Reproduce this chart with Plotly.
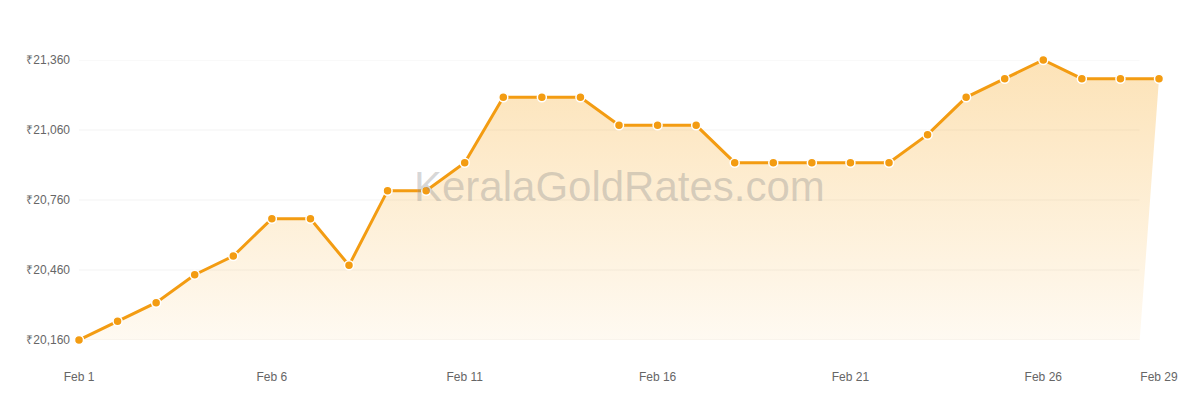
import plotly.graph_objects as go
import pandas as pd

dates = pd.date_range("2024-02-01", "2024-02-29", freq="D")
prices = [20160, 20240, 20320, 20440, 20520, 20680, 20680, 20480, 20800, 20800,
          20920, 21200, 21200, 21200, 21080, 21080, 21080, 20920, 20920, 20920,
          20920, 20920, 21040, 21200, 21280, 21360, 21280, 21280, 21280]
y_ticks = [20160, 20460, 20760, 21060, 21360]
y_tick_labels = ["₹20,160", "₹20,460", "₹20,760", "₹21,060", "₹21,360"]
x_tick_dates = pd.to_datetime(["2024-02-01", "2024-02-06", "2024-02-11", "2024-02-16",
                               "2024-02-21", "2024-02-26", "2024-02-29"])
x_tick_labels = ["Feb 1", "Feb 6", "Feb 11", "Feb 16", "Feb 21", "Feb 26", "Feb 29"]

ymin, ymax = min(y_ticks), max(y_ticks)

# fill polygon built from the data (bottom-right corner half a day before the last point)
fill_x = list(dates) + [dates[-1] - pd.Timedelta(hours=12), dates[0]]
fill_y = prices + [ymin, ymin]

fig = go.Figure()
fig.add_trace(go.Scatter(
    x=fill_x, y=fill_y, mode="none", fill="toself",
    fillgradient=dict(type="vertical",
                      colorscale=[[0, "rgba(247,166,30,0.06)"], [1, "rgba(247,166,30,0.32)"]],
                      start=ymin, stop=ymax),
    hoverinfo="skip", showlegend=False,
))
fig.add_trace(go.Scatter(
    x=dates, y=prices, mode="lines+markers",
    line=dict(color="#f39c12", width=3),
    marker=dict(size=9, color="#f39c12", line=dict(color="white", width=1.5)),
    cliponaxis=False, showlegend=False,
))

# light horizontal gridlines that stop short of the last point
for v in y_ticks:
    fig.add_shape(type="line", xref="paper", yref="y", x0=0, x1=0.982, y0=v, y1=v,
                  line=dict(color="#f3f3f3", width=1), layer="below")

fig.add_annotation(text="KeralaGoldRates.com", xref="paper", yref="paper",
                   x=0.5, y=0.55, showarrow=False,
                   font=dict(family="Liberation Sans, Arial", size=42,
                             color="rgba(140,140,140,0.35)"))

fig.update_layout(
    width=1200, height=400,
    margin=dict(l=71, r=49, t=52, b=68),
    paper_bgcolor="white", plot_bgcolor="white",
    font=dict(family="Liberation Sans, Arial", size=12, color="#666"),
    xaxis=dict(range=[dates[0], dates[-1]], tickvals=x_tick_dates, ticktext=x_tick_labels,
               showgrid=False, zeroline=False, showline=False, ticks="", ticklabelstandoff=28,
               tickfont=dict(size=12, color="#666")),
    yaxis=dict(range=[ymin, ymax], tickvals=y_ticks, ticktext=y_tick_labels,
               showgrid=False, zeroline=False, showline=False, ticks="", ticklabelstandoff=8,
               tickfont=dict(size=12, color="#666")),
)

fig.write_html("out.html")
